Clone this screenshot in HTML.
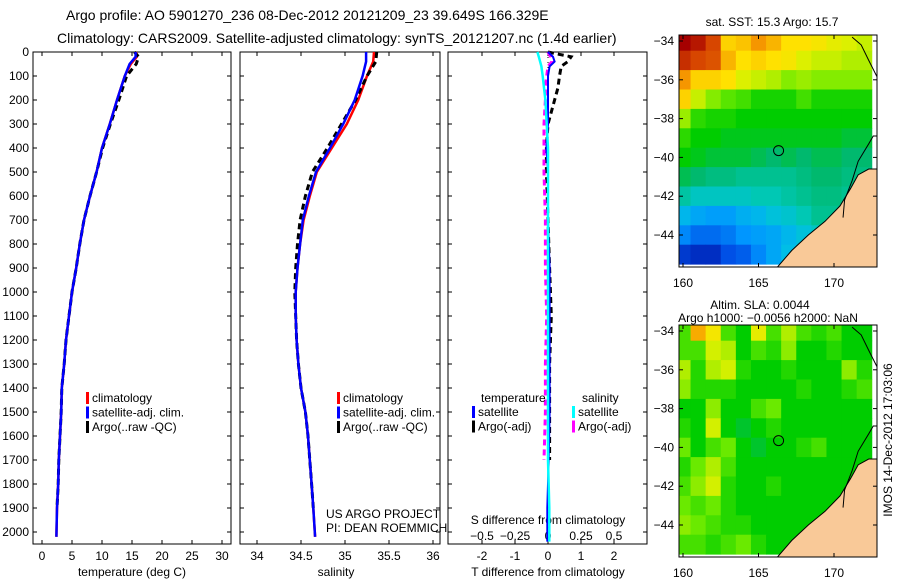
<!DOCTYPE html>
<html><head><meta charset="utf-8"><style>
html,body{margin:0;padding:0;background:#fff;}
svg{display:block;font-family:"Liberation Sans",sans-serif;}
</style></head><body>
<svg id="s" width="900" height="580" viewBox="0 0 900 580" xmlns="http://www.w3.org/2000/svg">
<text x="66" y="20" font-size="14">Argo profile: AO 5901270_236 08-Dec-2012 20121209_23 39.649S 166.329E</text>
<text x="57" y="43" font-size="14">Climatology: CARS2009. Satellite-adjusted climatology: synTS_20121207.nc (1.4d earlier)</text>
<g id="p1"></g>
<g id="p2"></g>
<g id="p3"></g>
<g id="m1"></g>
<g id="m2"></g>
<text transform="translate(892,440) rotate(-90)" text-anchor="middle" font-size="12">IMOS 14-Dec-2012 17:03:06</text>
</svg>
<script>
// ---- data ----
const depthT = [0,20,50,100,200,300,400,500,600,700,800,900,1000,1100,1200,1300,1400,1500,1600,1700,1800,1900,2020];
const tempClim = [15.7,15.8,14.8,13.8,12.5,11.3,10,9.1,8,7,6.3,5.7,5,4.5,4,3.7,3.3,3.2,3,2.8,2.7,2.5,2.4];
const tempSat = [15.6,15.6,14.6,13.8,12.5,11.3,10,9.1,8,7,6.3,5.7,5,4.5,4,3.7,3.3,3.2,3,2.8,2.7,2.5,2.4];
const tempArgo = [15.4,16.1,15.7,14.1,12.8,11.4,10.1,9.1,8,7,6.3,5.7,5,4.5,4,3.7,3.3,3.2,3,2.8,2.7,2.5];
const depthS = [0,40,100,200,300,400,500,600,700,800,900,1000,1100,1200,1300,1400,1500,1600,1700,1800,1900,2020];
const salClim = [35.33,35.32,35.25,35.15,35.02,34.85,34.68,34.6,34.53,34.49,34.46,34.44,34.44,34.45,34.47,34.5,34.55,34.58,34.6,34.62,34.64,34.66];
const salSat = [35.24,35.24,35.2,35.11,34.98,34.83,34.67,34.59,34.52,34.49,34.46,34.44,34.44,34.45,34.47,34.5,34.55,34.58,34.6,34.62,34.64,34.66];
const salArgo = [35.36,35.35,35.25,35.12,34.96,34.8,34.63,34.55,34.49,34.46,34.44,34.43,34.44,34.45,34.47,34.5,34.55,34.58,34.6,34.62,34.64];
const depthD = [0,20,40,60,100,150,200,300,400,500,700,900,1100,1300,1500,1700,1900,2040];
const tDiffSat = [0,0.15,0.2,0.05,0,0,0,0,-0.05,0,0,0.05,0.05,0.05,0.05,0.02,-0.02,-0.02];
const sDiffSat = [-0.08,-0.07,-0.06,-0.05,-0.04,-0.03,-0.02,-0.01,0,0,0,0,0,0,0,0,0.01,0.01];
const tDiffArgo = [0,0.7,0.6,0.4,0.35,0.3,0.2,0,-0.05,-0.05,0,0.05,0.1,0.05,0.05,0.05];
const sDiffArgo = [0,0.02,0.03,0,-0.01,-0.02,-0.02,-0.03,-0.03,-0.03,-0.02,-0.02,-0.01,-0.02,-0.02,-0.03];
const tTicks = [0,5,10,15,20,25,30];
const sTicks = [34,34.5,35,35.5,36];
const dTicksT = [-2,-1,0,1,2];
const dTicksS = [-0.5,-0.25,0,0.25,0.5];
const depthTicks = [0,100,200,300,400,500,600,700,800,900,1000,1100,1200,1300,1400,1500,1600,1700,1800,1900,2000];
// SST grid rows lat -34..-45, cols lon 160..172
const sstGrid = [
[18.3,18,17.6,16.6,16.7,17,16.8,16.5,16.5,16.4,16.2,16.1,16.0],
[17.8,17.6,17.5,16.8,16.5,16.6,16.5,16.4,16.1,16.0,16.0,15.9,15.9],
[17.0,16.6,16.6,16.5,16.1,16.0,15.9,15.7,15.8,15.7,15.7,15.7,15.7],
[16.6,16.0,15.7,15.5,15.4,15.2,15.2,15.2,15.4,15.2,15.2,15.2,15.2],
[15.8,15.3,15.2,15.2,15.1,15.1,15.1,15.1,15.1,15.1,15.1,15.1,15.1],
[15.3,15.1,15.1,15.0,15.0,15.0,15.0,15.0,15.0,15.0,15.0,14.9,14.9],
[15.1,15.0,14.9,14.9,14.9,14.8,14.7,14.8,14.7,14.8,14.8,14.7,14.7],
[14.8,14.7,14.6,14.6,14.5,14.5,14.5,14.5,14.6,14.7,14.7,14.6,14.6],
[14.4,14.2,14.2,14.2,14.2,14.3,14.3,14.4,14.5,14.6,14.6,14.5,14.5],
[13.8,13.6,13.5,13.5,13.7,13.8,14.0,14.1,14.3,14.5,14.5,14.4,14.3],
[13.3,13.1,13.1,13.2,13.4,13.5,13.6,13.8,14.0,14.2,14.3,13.5,12.8],
[12.7,12.6,12.6,12.9,13.0,13.3,13.6,13.9,14.0,14.1,13.8,12.4,12.0]];
const slaGrid = [
[0.3,0.75,0.6,0.3,0.2,0.55,0.3,0.45,0.3,0.25,0.3,0.2,0.2],
[0.3,0.3,0.5,0.45,0.2,0.3,0.25,0.4,0.2,0.2,0.25,0.2,0.2],
[0.45,0.25,0.45,0.5,0.25,0.2,0.2,0.25,0.2,0.2,0.2,0.4,0.25],
[0.4,0.25,0.25,0.25,0.2,0.2,0.2,0.2,0.25,0.2,0.2,0.25,0.3],
[0.2,0.2,0.4,0.2,0.2,0.3,0.35,0.2,0.2,0.2,0.2,0.2,0.2],
[0.25,0.2,0.5,0.2,0.15,0.2,0.25,0.2,0.2,0.2,0.2,0.2,0.2],
[0.35,0.2,0.3,0.35,0.2,0.15,0.2,0.2,0.25,0.3,0.2,0.2,0.2],
[0.25,0.35,0.45,0.3,0.2,0.2,0.2,0.2,0.2,0.2,0.2,0.2,0.2],
[0.3,0.4,0.5,0.25,0.2,0.2,0.25,0.2,0.2,0.2,0.2,0.2,0.2],
[0.35,0.3,0.35,0.25,0.2,0.2,0.2,0.2,0.2,0.2,0.2,0.2,0.2],
[0.4,0.35,0.3,0.25,0.25,0.2,0.2,0.2,0.2,0.2,0.2,0.2,0.2],
[0.3,0.3,0.25,0.3,0.35,0.25,0.2,0.2,0.2,0.2,0.2,0.2,0.2]];
const coast = [[166.2,-45.7],[167.2,-44.8],[168.3,-44],[169.4,-43.3],[170.4,-42.5],[171.1,-41.6],[171.6,-40.9],[172.3,-40.6],[172.95,-40.6],[172.95,-45.7]];
const coastLine1 = [[170.6,-43.1],[170.7,-42.2],[171.2,-41.2],[171.6,-40.2],[172.3,-39.3],[172.6,-38.9],[172.95,-38.9]];
const coastLine2 = [[171.2,-33.8],[171.8,-34.2],[172.3,-35],[172.95,-36]];
const argoPos = [166.33,-39.65];

const NS="http://www.w3.org/2000/svg";
function mk(parent,tag,attrs){const e=document.createElementNS(NS,tag);for(const k in attrs)e.setAttribute(k,attrs[k]);parent.appendChild(e);return e;}
function txt(parent,x,y,s,size,anchor){const t=mk(parent,'text',{x:x,y:y,'font-size':size||12,'text-anchor':anchor||'start'});t.textContent=s;return t;}
const yD = d => 52 + d*0.24;
function frame(g,x0,x1){const r=mk(g,'rect',{x:x0,y:52,width:x1-x0,height:492,fill:'none',stroke:'#000','stroke-width':1});
}
function line(g,xs,ds,xf,color,w,dash,name){
  const pts=xs.map((v,i)=>xf(v).toFixed(1)+','+yD(ds[i]).toFixed(1)).join(' ');
  const p=mk(g,'polyline',{points:pts,fill:'none',stroke:color,'stroke-width':w});
  if(dash)p.setAttribute('stroke-dasharray',dash);
  
  
}
function legend(g,x,y,items){items.forEach((it,i)=>{mk(g,'rect',{x:x,y:y+i*14.5-10,width:3,height:12,fill:it[0]});
 const t=txt(g,x+6,y+i*14.5,it[1],12);});}

// panel 1
const p1=document.getElementById('p1');
const xT=v=>42+v*6;
frame(p1,33,231);
depthTicks.forEach(d=>{mk(p1,'line',{x1:33,x2:37,y1:yD(d),y2:yD(d),stroke:'#000'});mk(p1,'line',{x1:227,x2:231,y1:yD(d),y2:yD(d),stroke:'#000'});
 txt(p1,29,yD(d)+4,String(d),12,'end');});
tTicks.forEach(v=>{mk(p1,'line',{x1:xT(v),x2:xT(v),y1:544,y2:540,stroke:'#000'});mk(p1,'line',{x1:xT(v),x2:xT(v),y1:52,y2:56,stroke:'#000'});txt(p1,xT(v),560,String(v),12,'middle');});
txt(p1,132,576,'temperature (deg C)',12,'middle');
line(p1,tempClim,depthT,xT,'#f00',2.5,null,'temp-climatology-line');
line(p1,tempArgo,depthT,xT,'#000',3,'6,4','temp-argo-line');
line(p1,tempSat,depthT,xT,'#00f',2.5,null,'temp-satellite-line');
legend(p1,86,402,[['#f00','climatology'],['#00f','satellite-adj. clim.'],['#000','Argo(..raw -QC)']]);

// panel 2
const p2=document.getElementById('p2');
const xS=v=>257+(v-34)*88;
frame(p2,240,440);
depthTicks.forEach(d=>{mk(p2,'line',{x1:240,x2:244,y1:yD(d),y2:yD(d),stroke:'#000'});mk(p2,'line',{x1:436,x2:440,y1:yD(d),y2:yD(d),stroke:'#000'});});
sTicks.forEach(v=>{mk(p2,'line',{x1:xS(v),x2:xS(v),y1:544,y2:540,stroke:'#000'});mk(p2,'line',{x1:xS(v),x2:xS(v),y1:52,y2:56,stroke:'#000'});txt(p2,xS(v),560,String(v),12,'middle');});
txt(p2,336,576,'salinity',12,'middle');
line(p2,salClim,depthS,xS,'#f00',2.5,null,'sal-climatology-line');
line(p2,salArgo,depthS,xS,'#000',3,'6,4','sal-argo-line');
line(p2,salSat,depthS,xS,'#00f',2.5,null,'sal-satellite-line');
legend(p2,337,402,[['#f00','climatology'],['#00f','satellite-adj. clim.'],['#000','Argo(..raw -QC)']]);
txt(p2,326,518,'US ARGO PROJECT',12);txt(p2,326,532,'PI: DEAN ROEMMICH',12);

// panel 3
const p3=document.getElementById('p3');
const xDT=v=>548+v*33; const xDS=v=>548+v*132;
frame(p3,448,647);
depthTicks.forEach(d=>{mk(p3,'line',{x1:448,x2:452,y1:yD(d),y2:yD(d),stroke:'#000'});mk(p3,'line',{x1:643,x2:647,y1:yD(d),y2:yD(d),stroke:'#000'});});
dTicksT.forEach(v=>{mk(p3,'line',{x1:xDT(v),x2:xDT(v),y1:544,y2:540,stroke:'#000'});mk(p3,'line',{x1:xDT(v),x2:xDT(v),y1:52,y2:56,stroke:'#000'});txt(p3,xDT(v),560,String(v),12,'middle');});
dTicksS.forEach(v=>{txt(p3,xDS(v),540,String(v).replace('-','\u2212'),12,'middle');});
txt(p3,548,524,'S difference from climatology',12,'middle');
txt(p3,548,576,'T difference from climatology',12,'middle');
mk(p3,'line',{x1:548,x2:548,y1:52,y2:544,stroke:'#000','stroke-dasharray':'1,4'});
line(p3,tDiffArgo,depthD,xDT,'#000',3,'6,4','t-diff-argo-line');
line(p3,sDiffArgo,depthD,xDS,'#f0f',3,'6,4','s-diff-argo-line');
line(p3,tDiffSat,depthD,xDT,'#00f',2,null,'t-diff-satellite-line');
line(p3,sDiffSat,depthD,xDS,'#0ff',2.5,null,'s-diff-satellite-line');
const l1=txt(p3,481,402,'temperature',12);
const l2=txt(p3,582,402,'salinity',12);
legend(p3,472,416,[['#00f','satellite'],['#000','Argo(-adj)']]);
legend(p3,572,416,[['#0ff','satellite'],['#f0f','Argo(-adj)']]);

// maps colormap
const cmStops=[[12.4,[0,24,170]],[12.9,[0,80,230]],[13.4,[0,150,255]],[13.9,[0,190,230]],[14.3,[0,200,180]],[14.7,[0,185,110]],[15.1,[0,205,0]],[15.6,[110,235,0]],[16.1,[220,240,0]],[16.5,[255,225,0]],[17.0,[245,150,0]],[17.6,[215,70,0]],[18.2,[165,0,0]]];
function cmap(v){
 if(v<=cmStops[0][0])return 'rgb('+cmStops[0][1]+')';
 for(let i=1;i<cmStops.length;i++){if(v<=cmStops[i][0]){const a=cmStops[i-1],b=cmStops[i],t=(v-a[0])/(b[0]-a[0]);
  return 'rgb('+a[1].map((c,k)=>Math.round(c+(b[1][k]-c)*t)).join(',')+')';}}
 return 'rgb('+cmStops[cmStops.length-1][1]+')';}
function drawMap(id,y0,grid,cf,title1,title2){
 const g=document.getElementById(id);
 const X=lon=>683+(lon-160)*15.1, Y=lat=>y0+6+(-34-lat)*19.4;
 const cp=mk(g,'clipPath',{id:'c'+id});mk(cp,'rect',{x:679,y:y0,width:198,height:232});
 const inner=mk(g,'g',{'clip-path':'url(#c'+id+')'});
 grid.forEach((row,i)=>row.forEach((v,j)=>{
  const c=mk(inner,'rect',{x:X(160+j-0.5),y:Y(-34-i+0.5),width:15.6,height:19.9,fill:cf(v)});
  
  
 }));
 const land=mk(inner,'polygon',{points:coast.map(p=>X(p[0])+','+Y(p[1])).join(' '),fill:'#f9c998',stroke:'#000','stroke-width':1});
 
 
 [coastLine1,coastLine2].forEach(cl=>mk(inner,'polyline',{points:cl.map(p=>X(p[0])+','+Y(p[1])).join(' '),fill:'none',stroke:'#000','stroke-width':1}));
 const o=mk(g,'circle',{cx:X(argoPos[0]),cy:Y(argoPos[1]),r:5,fill:'none',stroke:'#000','stroke-width':1});
 
 
 mk(g,'rect',{x:679,y:y0,width:198,height:232,fill:'none',stroke:'#000'});
 [-34,-36,-38,-40,-42,-44].forEach(l=>{mk(g,'line',{x1:679,x2:683,y1:Y(l),y2:Y(l),stroke:'#000'});mk(g,'line',{x1:873,x2:877,y1:Y(l),y2:Y(l),stroke:'#000'});txt(g,674,Y(l)+4,String(l).replace('-','\u2212'),12,'end');});
 [160,165,170].forEach(l=>{mk(g,'line',{x1:X(l),x2:X(l),y1:y0+232,y2:y0+228,stroke:'#000'});mk(g,'line',{x1:X(l),x2:X(l),y1:y0,y2:y0+4,stroke:'#000'});txt(g,X(l),y0+252,String(l),12,'middle');});
 if(title2){txt(g,760,y0-16,title1,12,'middle');txt(g,768,y0-3,title2,12,'middle');}
 else txt(g,772,y0-9,title1,12,'middle');
}
drawMap('m1',35,sstGrid,cmap,'sat. SST: 15.3 Argo: 15.7');
function slaCol(v){return cmap(15.1+(v-0.2)*3.2);}
drawMap('m2',325,slaGrid,slaCol,'Altim. SLA: 0.0044','Argo h1000: \u22120.0056 h2000: NaN');
</script>
</body></html>
